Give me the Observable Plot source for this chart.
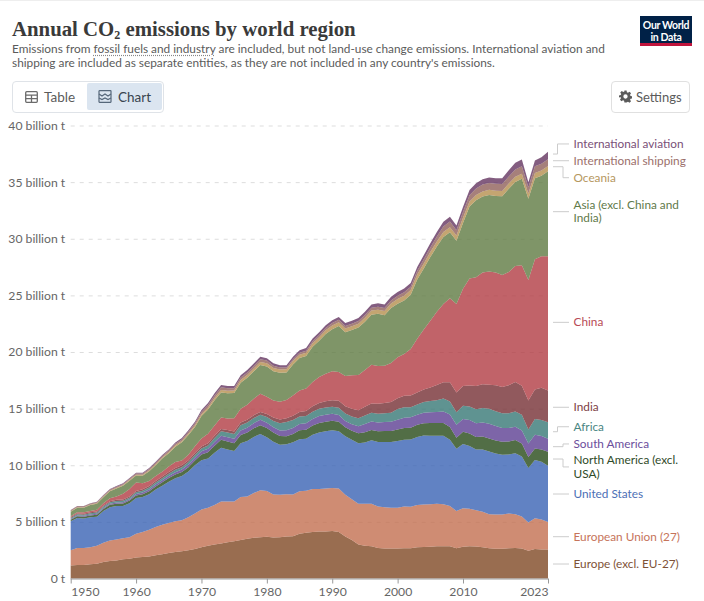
<!DOCTYPE html>
<html><head><meta charset="utf-8">
<script src="https://cdn.jsdelivr.net/npm/d3@7"></script>
<script src="https://cdn.jsdelivr.net/npm/@observablehq/plot@0.6"></script>
<style>
html,body{margin:0;padding:0;background:#fff;font-family:Lato,sans-serif;}
#page{position:relative;width:704px;height:601px;overflow:hidden;border-top:1px solid #eee;box-sizing:border-box;}
#page>*{position:absolute;}
#title{left:12px;top:17px;font:700 20.8px/22px "Liberation Serif",serif;color:#3a3a3a;white-space:nowrap;}
#title sub{font-size:12px;line-height:0;vertical-align:-3px;}
#subtitle{left:12px;top:41px;font-size:11.85px;line-height:14px;color:#5b5b5b;white-space:nowrap;}
#subtitle u{text-decoration:underline dotted #888;text-underline-offset:2px;}
#logo{left:640px;top:15px;width:52px;background:#002147;border-bottom:3px solid #c0143c;color:#fff;font-weight:700;font-size:10.5px;line-height:12px;text-align:center;padding-top:3px;height:24px;letter-spacing:-.35px;}
#tabs{left:12px;top:80px;width:150px;height:30px;border:1px solid #dfe3e8;border-radius:4px;}
#sel{left:87px;top:82px;width:75px;height:27px;background:#dbe5f0;border-radius:2px;}
.tab{font-size:13.5px;top:88px;color:#5b5b5b;}
.tabd{color:#39444f;}
#set{left:611px;top:80px;width:77px;height:30px;border:1px solid #e0e0e0;border-radius:4px;}
#settxt{left:636px;top:88px;font-size:13px;color:#5b5b5b;}
#plot{left:0;top:109px;}
</style></head><body>
<div id="page">
  <div id="title">Annual CO<sub>2</sub> emissions by world region</div>
  <div id="subtitle">Emissions from <u>fossil fuels and industry</u> are included, but not land-use change emissions. International aviation and<br>shipping are included as separate entities, as they are not included in any country's emissions.</div>
  <div id="logo">Our World<br>in Data</div>
  <div id="tabs"></div><div id="sel"></div>
  <svg style="left:25px;top:90px" width="13" height="12" viewBox="0 0 13 12" fill="none" stroke="#6b6b6b" stroke-width="1.3"><rect x=".7" y=".7" width="11.6" height="10.6" rx="1"/><path d="M.7 4.2h11.6M6.5 4.2v7M.7 7.7h11.6"/></svg>
  <div class="tab" style="left:44px">Table</div>
  <svg style="left:98px;top:89px" width="14" height="13" viewBox="0 0 14 13" fill="none" stroke="#55677a" stroke-width="1.2"><rect x="1" y=".7" width="12" height="11.6" rx=".5"/><path d="M1 4l3 2 3-2 3 2 3-2M1 8l3 1.5 3-1.5 3 1.5 3-1.5"/></svg>
  <div class="tab tabd" style="left:118px">Chart</div>
  <div id="set"></div>
  <svg style="left:619px;top:89px" width="13" height="13" viewBox="0 0 24 24" fill="#5b5b5b"><path fill-rule="evenodd" d="M10 1h4l.6 3.2 2 .9 2.8-1.8 2.8 2.8-1.8 2.8.9 2 3.2.6v4l-3.2.6-.9 2 1.8 2.8-2.8 2.8-2.8-1.8-2 .9L14 23h-4l-.6-3.2-2-.9-2.8 1.8-2.8-2.8 1.8-2.8-.9-2L0 14v-4l3.2-.6.9-2L2.300 4.600l2.800-2.800 2.800 1.800 2-.9zM12 8a4 4 0 1 0 0 8 4 4 0 0 0 0-8z"/></svg>
  <div id="settxt">Settings</div>
  <div id="plot"></div>
</div>
<script>
const startYear = 1950;
const europe = [1.15,1.2,1.2,1.25,1.3,1.45,1.55,1.6,1.7,1.75, 1.85,1.9,1.95,2.05,2.15,2.25,2.35,2.4,2.5,2.6, 2.75,2.9,3.0,3.1,3.2,3.3,3.4,3.5,3.6,3.65, 3.68,3.62,3.65,3.7,3.72,3.95,4.05,4.1,4.15,4.15, 4.2,4.1,3.7,3.4,3.0,2.9,2.85,2.7,2.65,2.65, 2.65,2.68,2.68,2.75,2.78,2.8,2.85,2.85,2.85,2.68, 2.8,2.85,2.82,2.75,2.68,2.63,2.63,2.68,2.7,2.65, 2.45,2.6,2.55,2.55];
const eu = [1.35,1.5,1.5,1.5,1.6,1.7,1.8,1.85,1.85,1.9, 2.1,2.2,2.35,2.5,2.6,2.65,2.7,2.75,2.9,3.15, 3.35,3.35,3.5,3.7,3.6,3.5,3.8,3.75,3.95,4.15, 4.05,3.8,3.75,3.75,3.7,3.75,3.7,3.8,3.75,3.8, 3.8,3.85,3.7,3.6,3.6,3.7,3.75,3.65,3.65,3.6, 3.6,3.68,3.65,3.75,3.75,3.75,3.75,3.7,3.55,3.28, 3.4,3.3,3.2,3.15,3.0,3.03,3.03,3.05,2.98,2.83, 2.5,2.72,2.65,2.45];
const us = [2.55,2.65,2.6,2.65,2.55,2.8,2.95,2.95,2.85,3.0, 3.15,3.1,3.15,3.3,3.45,3.65,3.8,3.9,4.05,4.25, 4.35,4.35,4.6,4.75,4.6,4.45,4.75,4.9,4.95,4.95, 4.75,4.65,4.4,4.4,4.6,4.6,4.6,4.8,5.0,5.05, 5.1,5.05,5.15,5.25,5.35,5.4,5.6,5.7,5.75,5.8, 5.9,5.9,5.95,6.0,6.1,6.05,6.0,6.05,5.85,5.49, 5.68,5.56,5.36,5.48,5.53,5.38,5.26,5.21,5.38,5.3, 4.8,5.15,5.1,4.95];
const northAmerica = [.13,.14,.15,.16,.17,.19,.21,.21,.22,.23, .24,.25,.26,.28,.3,.32,.34,.36,.38,.42, .5,.55,.62,.7,.7,.7,.72,.74,.76,.79, .8,.82,.78,.72,.75,.8,.78,.8,.84,.85, .84,.85,.8,.8,.87,.92,.92,.95,.97,.98, 1.0,1.03,1.03,1.07,1.08,1.12,1.12,1.14,1.13,.98, 1.08,1.1,1.12,1.15,1.15,1.15,1.15,1.15,1.16,1.15, .97,1.02,1.1,1.25];
const southAmerica = [.07,.08,.08,.09,.09,.09,.1,.11,.11,.12, .13,.14,.15,.16,.17,.19,.2,.21,.23,.25, .28,.3,.33,.36,.38,.38,.4,.42,.45,.47, .48,.47,.48,.52,.53,.55,.57,.58,.6,.6, .6,.58,.55,.58,.62,.72,.75,.78,.8,.82, .87,.9,.92,.9,.93,.95,.98,1.0,1.1,1.15, 1.13,1.18,1.2,1.25,1.3,1.28,1.22,1.2,1.17,1.13, 1.2,1.2,1.18,1.15];
const africa = [.1,.1,.11,.11,.12,.12,.13,.13,.14,.14, .15,.16,.17,.18,.19,.2,.21,.21,.22,.24, .25,.3,.35,.4,.42,.42,.46,.46,.46,.45, .5,.55,.65,.72,.7,.65,.65,.65,.66,.65, .62,.65,.67,.68,.7,.75,.76,.77,.78,.78, .95,.94,.9,.9,.95,1.0,1.05,1.15,1.16,1.09, 1.16,1.2,1.25,1.28,1.32,1.3,1.3,1.3,1.35,1.4, 1.24,1.4,1.42,1.44];
const india = [.07,.07,.08,.08,.08,.09,.09,.1,.1,.11, .11,.12,.13,.14,.14,.15,.16,.16,.17,.18, .18,.19,.2,.2,.22,.24,.24,.24,.25,.25, .27,.3,.32,.33,.36,.4,.43,.47,.5,.55, .59,.62,.65,.68,.72,.78,.82,.88,.9,.95, .95,1.0,1.03,1.05,1.1,1.2,1.33,1.43,1.7,1.76, 1.74,1.85,2.05,2.1,2.13,2.3,2.33,2.48,2.61,2.55, 2.55,2.6,2.85,2.8];
const china = [.08,.1,.13,.13,.17,.2,.25,.3,.52,.65, .75,.55,.44,.43,.43,.48,.52,.43,.47,.58, .7,.85,.92,1.0,1.0,1.17,1.22,1.34,1.46,1.6, 1.52,1.5,1.58,1.62,1.81,1.9,2.0,2.15,2.3,2.42, 2.55,2.53,2.65,2.95,3.1,3.25,3.43,3.33,3.29,3.45, 3.62,3.7,4.1,4.75,5.3,5.9,6.47,6.92,7.4,7.8, 8.6,9.45,9.6,9.85,10.0,9.95,9.87,10.0,10.25,10.65, 10.65,11.5,11.6,11.87];
const asia = [.39,.4,.39,.52,.52,.54,.62,.7,.7,.73, .61,.66,.87,.97,1.16,1.17,1.36,1.6,1.76,1.71, 1.98,2.14,2.23,2.22,2.23,2.21,2.3,2.38,2.41,2.54, 2.68,2.59,2.56,2.42,2.73,2.86,2.86,3.12,3.19,3.53, 3.71,4.07,3.88,4.0,4.2,4.26,4.42,4.61,4.46,4.85, 4.72,4.72,4.79,5.24,5.39,5.61,5.76,5.91,5.83,5.6, 5.81,6.35,6.81,6.72,6.76,6.76,6.96,7.34,7.42,7.63, 7.18,7.16,7.11,7.5];
const oceania = [.05,.05,.05,.05,.06,.06,.07,.07,.07,.08, .08,.09,.09,.1,.1,.11,.12,.12,.13,.15, .17,.18,.19,.21,.22,.22,.23,.24,.25,.27, .28,.28,.29,.29,.3,.3,.3,.31,.32,.32, .32,.33,.33,.33,.34,.35,.36,.37,.38,.4, .41,.42,.42,.43,.44,.44,.45,.45,.45,.45, .46,.45,.45,.45,.45,.45,.46,.46,.46,.46, .45,.45,.46,.47];
const shipping = [.08,.08,.08,.08,.08,.09,.09,.09,.09,.1, .1,.1,.11,.11,.12,.13,.13,.14,.15,.17, .2,.22,.23,.25,.24,.22,.23,.23,.23,.24, .23,.21,.18,.17,.17,.17,.18,.18,.19,.2, .22,.22,.22,.22,.23,.24,.25,.26,.26,.27, .3,.3,.3,.33,.37,.4,.44,.48,.5,.47, .5,.55,.58,.6,.6,.62,.62,.63,.64,.65, .56,.6,.6,.6];
const aviation = [.03,.03,.03,.03,.04,.04,.04,.05,.05,.06, .07,.07,.08,.08,.09,.1,.11,.12,.14,.15, .16,.17,.18,.19,.19,.19,.2,.2,.21,.22, .21,.21,.2,.2,.21,.22,.23,.24,.25,.25, .25,.25,.25,.26,.27,.28,.29,.3,.31,.32, .33,.33,.33,.33,.36,.38,.4,.42,.42,.42, .44,.46,.46,.47,.48,.5,.52,.55,.58,.6, .45,.5,.58,.65];

const regions = ["Europe (excl. EU-27)","European Union (27)","United States","North America (excl. USA)","South America","Africa","India","China","Asia (excl. China and India)","Oceania","International shipping","International aviation"];
const regionValues = [europe,eu,us,northAmerica,southAmerica,africa,india,china,asia,oceania,shipping,aviation];
const areaColors = ["#7f4824","#c36f50","#3a63b4","#274a18","#5d3e92","#377875","#752f34","#b23c44","#5f7a42","#b58f4e","#90605a","#643460"];
const labelColors = ["#7e5236","#c6745a","#4c6fb5","#2f4a29","#6b4e9c","#4a8582","#7d3e45","#b84a55","#5f7a4a","#b5975e","#9b6f6b","#7a4f78"];
const labelLines = ["Europe (excl. EU-27)","European Union (27)","United States","North America (excl.\nUSA)","South America","Africa","India","China","Asia (excl. China and\nIndia)","Oceania","International shipping","International aviation"];
const labelAnchor = [1.28,3.69,7.46,10.55,11.64,12.96,15.12,22.62,32.39,36.36,36.89,37.48];
const labelValue  = [1.28,3.69,7.46,9.85,11.88,13.4,15.12,22.62,32.39,35.39,36.89,38.37];
const bend = [0,0,0,1,1,.45,0,0,0,1,0,.45];

const yTicks = [0,5,10,15,20,25,30,35,40];
const yearTicks = [1960,1970,1980,1990,2000,2010];

const rows = regions.flatMap((region,i)=>regionValues[i].map((value,j)=>({year:startYear+j,region,value})));
const labels = regions.map((region,i)=>({region,text:labelLines[i],color:labelColors[i],anchor:labelAnchor[i],at:labelValue[i],bend:bend[i]}));

function connectors(index,{x,y}){
  const g = d3.create("svg:g").attr("fill","none").attr("stroke","#ccc").attr("stroke-width",1);
  const x0 = x(2023)+5, x1 = x(2023)+21, span = 10;
  for(const l of labels){
    const mid = x0 + (l.bend||0)*span;
    g.append("path").attr("d",`M${x0},${y(l.anchor)}H${mid}V${y(l.at)}H${x1}`);
  }
  return g.node();
}

const chart = Plot.plot({
  width:704, height:491,
  marginTop:15.5, marginBottom:22.5, marginLeft:70.7, marginRight:156,
  style:{fontFamily:"Lato,sans-serif",fontSize:"12.2px",background:"transparent",overflow:"visible"},
  x:{domain:[1950,2023],label:null},
  y:{domain:[0,40],label:null},
  color:{domain:regions,range:areaColors},
  marks:[
    Plot.gridY(yTicks.filter(d=>d>0),{stroke:"#dddddd",strokeOpacity:1,strokeDasharray:"4,5"}),
    Plot.areaY(rows,{x:"year",y:"value",fill:"region",order:regions,fillOpacity:.8}),
    Plot.ruleY([0],{stroke:"#999",strokeWidth:1}),
    Plot.axisY(yTicks,{anchor:"left",tickSize:0,tickPadding:6,fontSize:12.2,fill:"#666",label:null,tickFormat:d=>d===0?"0 t":`${d} billion t`}),
    Plot.axisX(yearTicks,{tickSize:5,tickPadding:3,stroke:"#999",fill:"#666",fontSize:12.2,label:null,tickFormat:d=>String(d)}),
    Plot.axisX([1950],{tickSize:5,tickPadding:3,stroke:"#999",fill:"#666",fontSize:12.2,label:null,textAnchor:"start",tickFormat:d=>String(d)}),
    Plot.axisX([2023],{tickSize:5,tickPadding:3,stroke:"#999",fill:"#666",fontSize:12.2,label:null,textAnchor:"end",tickFormat:d=>String(d)}),
    connectors,
    Plot.text(labels,{x:()=>2023,y:"at",text:"text",fill:"color",textAnchor:"start",dx:25,dy:-.6,fontSize:11.8,lineHeight:1.12})
  ]
});
document.getElementById("plot").append(chart);
</script>
</body></html>
